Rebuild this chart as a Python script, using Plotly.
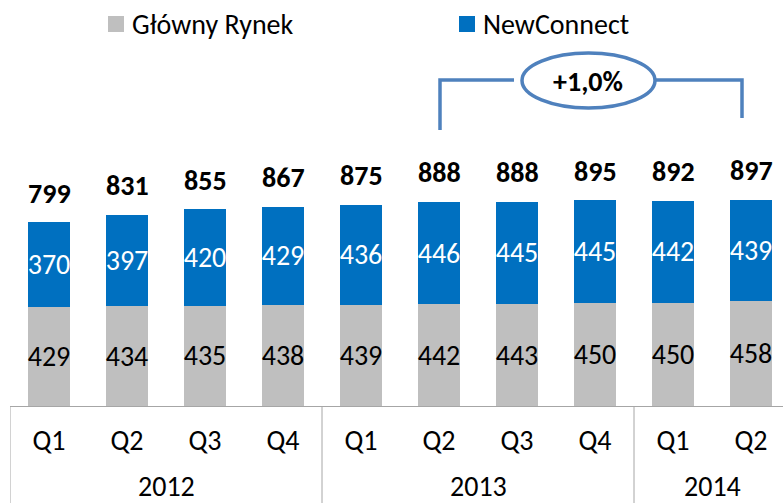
import plotly.graph_objects as go

# ---- data ----
quarters = ["Q1", "Q2", "Q3", "Q4", "Q1", "Q2", "Q3", "Q4", "Q1", "Q2"]
years = ["2012", "2012", "2012", "2012", "2013", "2013", "2013", "2013", "2014", "2014"]
glowny_rynek = [429, 434, 435, 438, 439, 442, 443, 450, 450, 458]
newconnect = [370, 397, 420, 429, 436, 446, 445, 445, 442, 439]
totals = [799, 831, 855, 867, 875, 888, 888, 895, 892, 897]
series_names = ["Główny Rynek", "NewConnect"]
change_label = "+1,0%"

# ---- style ----
FONT = "Carlito, Lato, sans-serif"
FS = 28
GRAY = "#BFBFBF"
BLUE = "#0070C0"
BRACKET = "#4F81BD"
LINE = "#A6A6A6"
W, H = 783, 503
ML, MB = 10, 97
PLOT_H = H - MB          # 406 px
PLOT_W = W - ML          # 773 px
PX_PER_UNIT = 0.23
SLOT = 78.0              # px per category

x = list(range(len(quarters)))

def py(p):  # pixel y (from top) -> paper y
    return (PLOT_H - p) / PLOT_H

def pxx(p):  # pixel x -> data x
    return (p - ML) / SLOT - 0.5

def pxp(p):  # pixel x -> paper x
    return (p - ML) / PLOT_W

fig = go.Figure()
fig.add_trace(go.Bar(
    x=x, y=glowny_rynek, name=series_names[0], marker=dict(color=GRAY, line=dict(width=0)),
    text=[str(v) for v in glowny_rynek], textposition="inside", insidetextanchor="middle",
    textangle=0, constraintext="none", textfont=dict(family=FONT, size=FS, color="black"),
    hoverinfo="skip"))
fig.add_trace(go.Bar(
    x=x, y=newconnect, name=series_names[1], marker=dict(color=BLUE, line=dict(width=0)),
    text=[str(v) for v in newconnect], textposition="inside", insidetextanchor="middle",
    textangle=0, constraintext="none", textfont=dict(family=FONT, size=FS, color="white"),
    hoverinfo="skip"))

annotations = []
# totals above bars
for xi, t in zip(x, totals):
    annotations.append(dict(x=xi, y=t, xref="x", yref="y", text=f"<b>{t}</b>",
                            showarrow=False, yanchor="middle", yshift=29,
                            font=dict(family=FONT, size=FS, color="black")))

# year labels (centered under their groups) and group dividers
groups = []
for i, yv in enumerate(years):
    if not groups or groups[-1][0] != yv:
        groups.append([yv, i, i])
    else:
        groups[-1][2] = i
shapes = []
for yv, a, b in groups:
    annotations.append(dict(x=(a + b) / 2, y=py(486), xref="x", yref="paper", text=yv,
                            showarrow=False, yanchor="middle",
                            font=dict(family=FONT, size=FS, color="black")))
    shapes.append(dict(type="line", xref="x", yref="paper", x0=a - 0.5, x1=a - 0.5,
                       y0=0, y1=py(H + 5), line=dict(color=LINE, width=1)))

# manual legend
legend_items = [(series_names[0], GRAY, 108), (series_names[1], BLUE, 459)]
for name, col, left in legend_items:
    shapes.append(dict(type="rect", xref="paper", yref="paper",
                       x0=pxp(left), x1=pxp(left + 16), y0=py(32), y1=py(16),
                       fillcolor=col, line=dict(width=0)))
    annotations.append(dict(x=pxp(left + 22), y=py(24), xref="paper", yref="paper",
                            text=name, showarrow=False, xanchor="left", yanchor="middle",
                            font=dict(family=FONT, size=FS, color="black")))

# bracket with ellipse
bl = dict(color=BRACKET, width=3.5)
shapes.append(dict(type="path", xref="x", yref="paper",
                   path=f"M {pxx(440)},{py(130)} L {pxx(440)},{py(80)} L {pxx(514)},{py(80)}",
                   line=bl))
shapes.append(dict(type="path", xref="x", yref="paper",
                   path=f"M {pxx(655)},{py(80)} L {pxx(742)},{py(80)} L {pxx(742)},{py(118)}",
                   line=bl))
shapes.append(dict(type="circle", xref="x", yref="paper",
                   x0=pxx(522), x1=pxx(655), y0=py(108), y1=py(53),
                   fillcolor="white", line=bl))
annotations.append(dict(x=pxx(588), y=py(81), xref="x", yref="paper",
                        text=f"<b>{change_label}</b>", showarrow=False,
                        xanchor="center", yanchor="middle",
                        font=dict(family=FONT, size=FS, color="black")))

fig.update_layout(
    width=W, height=H,
    margin=dict(l=ML, r=0, t=0, b=MB),
    barmode="stack", bargap=0.46,
    showlegend=False,
    plot_bgcolor="white", paper_bgcolor="white",
    shapes=shapes, annotations=annotations,
    font=dict(family=FONT, size=FS, color="black"),
    xaxis=dict(range=[-0.5, -0.5 + PLOT_W / SLOT], tickmode="array", tickvals=x,
               ticktext=quarters, showline=True, linecolor=LINE, linewidth=1,
               ticks="outside", ticklen=9, tickcolor="rgba(0,0,0,0)",
               showgrid=False, zeroline=False, fixedrange=True,
               tickfont=dict(family=FONT, size=FS, color="black")),
    yaxis=dict(range=[0, PLOT_H / PX_PER_UNIT], visible=False, showgrid=False,
               zeroline=False, fixedrange=True),
)

fig.write_html("out.html", config={"displayModeBar": False},
               post_script="document.body.style.margin='0';")
